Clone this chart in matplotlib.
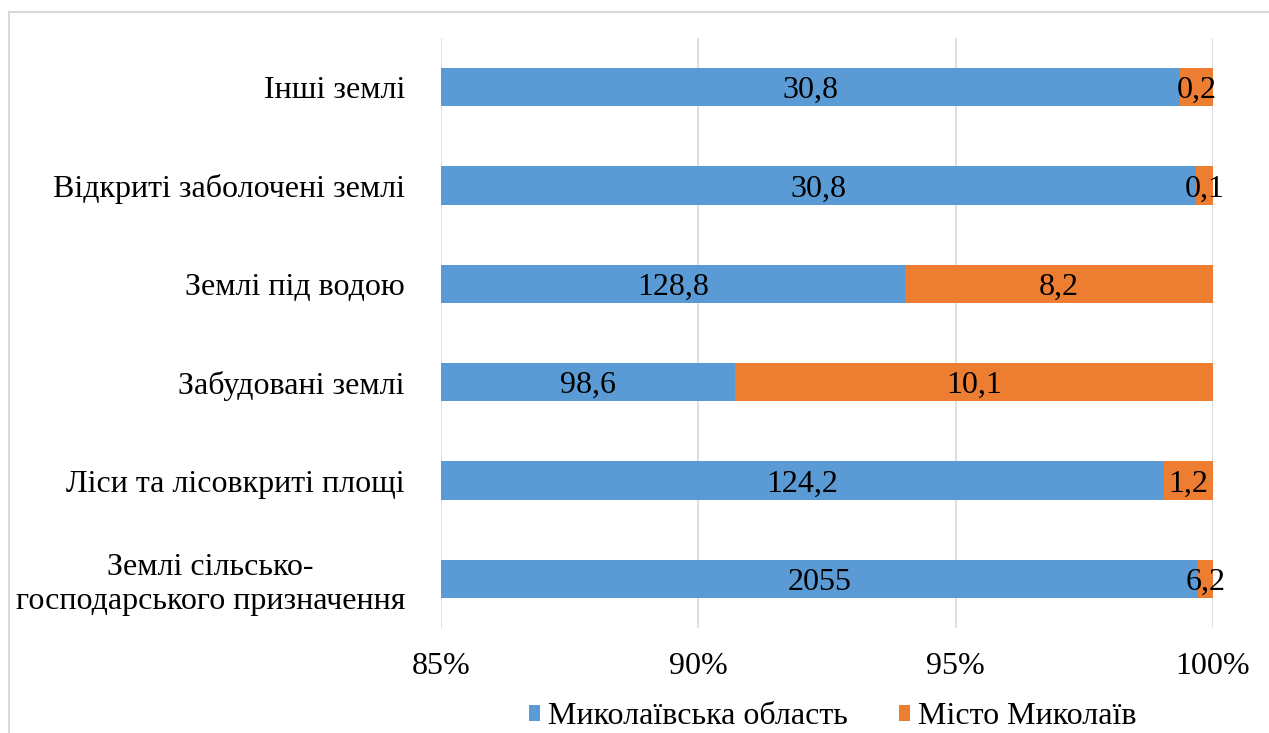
import matplotlib
matplotlib.use("Agg")
import matplotlib.pyplot as plt
from matplotlib.patches import Rectangle
from matplotlib.ticker import FuncFormatter

categories = [
    "Землі сільсько-\nгосподарського призначення",
    "Ліси та лісовкриті площі",
    "Забудовані землі",
    "Землі під водою",
    "Відкриті заболочені землі",
    "Інші землі",
]
oblast = [2055, 124.2, 98.6, 128.8, 30.8, 30.8]
city = [6.2, 1.2, 10.1, 8.2, 0.1, 0.2]
series_names = ["Миколаївська область", "Місто Миколаїв"]
colors = ["#5B9BD5", "#ED7D31"]

plt.rcParams["font.family"] = ["Liberation Serif", "DejaVu Serif"]
FS = 23


def fmt(v):
    return f"{v:g}".replace(".", ",")


fig = plt.figure(figsize=(12.69, 7.33), dpi=100)
ax = fig.add_axes([441 / 1269, 1 - 628 / 733, (1213 - 441) / 1269, (628 - 38) / 733])

# outer chart frame
fig.patches.append(Rectangle((9 / 1269, -0.1), 1.2, 1.1 - 12 / 733,
                             transform=fig.transFigure, fill=False,
                             edgecolor="#D9D9D9", lw=1.5))

ypos = range(len(categories))
totals = [a + b for a, b in zip(oblast, city)]
share_a = [a / t for a, t in zip(oblast, totals)]
share_b = [b / t for b, t in zip(city, totals)]

h = 0.39
bars_a = ax.barh(ypos, share_a, height=h, color=colors[0], label=series_names[0])
bars_b = ax.barh(ypos, share_b, left=share_a, height=h, color=colors[1], label=series_names[1])

for bars, vals in [(bars_a, oblast), (bars_b, city)]:
    for rect, v in zip(bars, vals):
        x0 = max(rect.get_x(), 0.85)
        x1 = rect.get_x() + rect.get_width()
        ax.text((x0 + x1) / 2, rect.get_y() + rect.get_height() / 2, fmt(v),
                ha="center", va="center_baseline", fontsize=FS, color="black")

ax.set_xlim(0.85, 1.0)
ax.set_ylim(-0.5, len(categories) - 0.5)
ax.set_xticks([0.85, 0.90, 0.95, 1.0])
ax.xaxis.set_major_formatter(FuncFormatter(lambda x, p: f"{x * 100:.0f}%"))
ax.set_yticks(list(ypos))
ax.set_yticklabels(categories, fontsize=FS, multialignment="center")
ax.tick_params(axis="x", length=0, pad=17, labelsize=FS)
ax.tick_params(axis="y", length=0, pad=26)
ax.grid(axis="x", color="#D9D9D9", lw=1.2)
ax.set_axisbelow(True)
for s in ax.spines.values():
    s.set_visible(False)

fig.legend(loc="center", bbox_to_anchor=(833 / 1269, 1 - 717 / 733), ncol=2,
           frameon=False, fontsize=FS, handlelength=0.35, handleheight=0.35,
           handletextpad=0.25, columnspacing=1.6)

fig.savefig("out.png", dpi=100)
